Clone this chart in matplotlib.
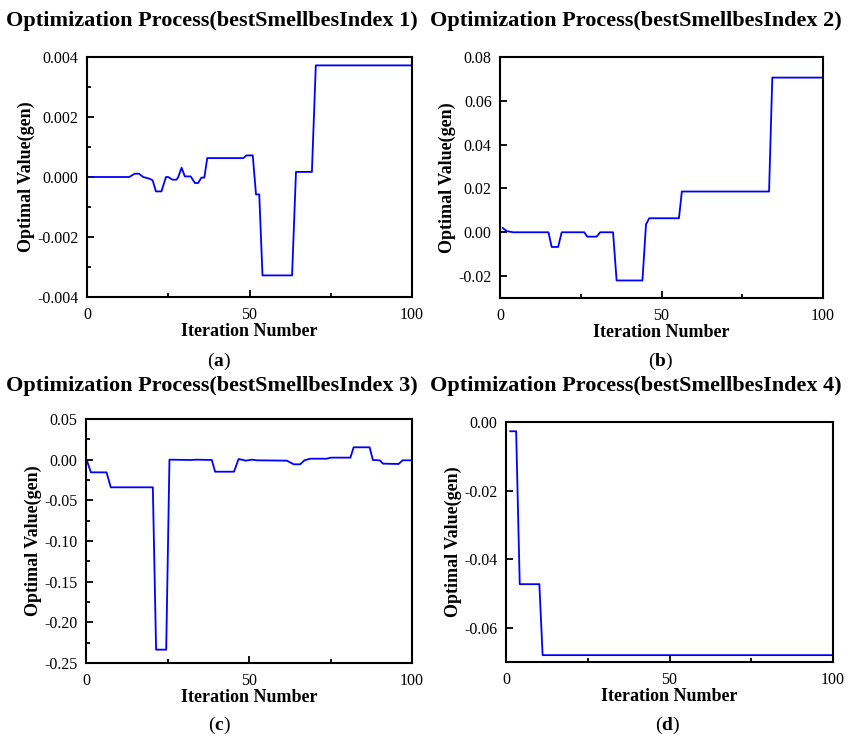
import matplotlib
matplotlib.use('Agg')
import matplotlib.pyplot as plt
from matplotlib.ticker import MultipleLocator, FormatStrFormatter

plt.rcParams['font.family'] = ['Liberation Serif', 'DejaVu Serif']
plt.rcParams['mathtext.fontset'] = 'custom'
plt.rcParams['mathtext.rm'] = 'Liberation Serif'
plt.rcParams['mathtext.bf'] = 'Liberation Serif:bold'
plt.rcParams['axes.unicode_minus'] = False

# breakpoints (iteration, optimal value)
x_a = [1, 13, 14.7, 16, 17.3, 19.3, 20.2, 21.2, 22.9, 24.3, 25, 26.3, 27.5, 28, 29.1, 30.1,
       31.9, 33.2, 34.2, 35.2, 36.1, 37, 48.1, 49.1, 51, 52, 53, 54, 63.1, 64.3, 69.2, 70.4, 100]
y_a = [0.0, 0.0, 0.00011, 0.00011, 0.0, -0.00006, -0.00011, -0.00048, -0.00048, 0.0, 0.0,
       -0.00009, -0.00009, -0.00002, 0.00031, 0.00002, 0.00002, -0.0002, -0.0002, -0.00002,
       -0.00002, 0.00063, 0.00063, 0.00072, 0.00072, -0.00058, -0.00058, -0.00328, -0.00328,
       0.00017, 0.00017, 0.00372, 0.00372]

x_b = [0.8, 2.1, 4.1, 15, 16, 18, 19.1, 26.1, 27, 29.9, 31, 35, 36.1, 44.1, 45.2, 46.2,
       55.4, 56.3, 83.3, 84.3, 100]
y_b = [0.002, 0.0005, 0.0, 0.0, -0.0067, -0.0067, 0.0, 0.0, -0.002, -0.002, 0.0, 0.0,
       -0.022, -0.022, 0.0036, 0.0064, 0.0064, 0.0186, 0.0186, 0.0706, 0.0706]

x_c = [0.2, 1.5, 6.3, 7.6, 20.5, 21.5, 24.6, 25.6, 32, 34, 38.6, 39.6, 45.4, 46.8, 47.8,
       49, 50.9, 52.4, 61.6, 63.7, 65.7, 67, 68.8, 73.9, 75.1, 81.1, 82.1, 87, 88, 90.1,
       91.1, 95.9, 97.1, 100]
y_c = [0.0, -0.0156, -0.0156, -0.034, -0.034, -0.2336, -0.2336, 0.0, -0.0004, 0.0, -0.0004,
       -0.0148, -0.0148, 0.0008, 0.0, -0.0012, 0.0, -0.0008, -0.0012, -0.0057, -0.0057,
       -0.0008, 0.0012, 0.0012, 0.0025, 0.0025, 0.0152, 0.0152, -0.0004, -0.0008, -0.0049,
       -0.0053, -0.0008, -0.0008]

x_d = [1.3, 3.1, 4.2, 10.2, 11.2, 100]
y_d = [-0.0027, -0.0027, -0.0473, -0.0473, -0.068, -0.068]

titles = ['Optimization Process(bestSmellbesIndex %d)' % i for i in range(1, 5)]
captions = ['a', 'b', 'c', 'd']

fig = plt.figure(figsize=(8.48, 7.38), dpi=100)
W, H = 848.0, 738.0


def box(l, t, r, b):
    return [l / W, 1 - b / H, (r - l) / W, (b - t) / H]


panels = [
    (x_a, y_a, box(87, 57, 412, 297), (-0.004, 0.004), 0.002, 0.001, '%.3f'),
    (x_b, y_b, box(500, 57, 823, 298), (-0.03, 0.08), 0.02, None, '%.2f'),
    (x_c, y_c, box(86, 419, 412, 663), (-0.25, 0.05), 0.05, 0.025, '%.2f'),
    (x_d, y_d, box(506, 422, 833, 662), (-0.07, 0.0), 0.02, None, '%.2f'),
]
title_pos = [(212, 21), (636, 21), (212, 386), (636, 386)]
cap_pos = [(219, 361), (661, 361), (219, 725), (668, 725)]

for i, (xs, ys, rect, ylim, major, minor, fmt) in enumerate(panels):
    ax = fig.add_axes(rect)
    ax.plot(xs, ys, color='#0000ff', lw=1.3)
    ax.set_xlim(0, 100)
    ax.set_ylim(*ylim)
    ax.xaxis.set_major_locator(MultipleLocator(50))
    ax.xaxis.set_minor_locator(MultipleLocator(25))
    ax.yaxis.set_major_locator(MultipleLocator(major))
    if minor:
        ax.yaxis.set_minor_locator(MultipleLocator(minor))
    ax.yaxis.set_major_formatter(FormatStrFormatter(fmt))
    ax.tick_params(which='both', direction='in', top=False, right=False,
                   labelsize=11.5, width=1.3)
    ax.tick_params(axis='x', pad=7)
    ax.tick_params(axis='y', pad=6)
    ax.tick_params(which='major', length=5)
    ax.tick_params(which='minor', length=3)
    for s in ax.spines.values():
        s.set_linewidth(1.5)
    ax.set_xlabel('Iteration Number', fontsize=13, fontweight='bold', labelpad=0)
    ax.set_ylabel('Optimal Value(gen)', fontsize=13, fontweight='bold', labelpad=2)
    tx, ty = title_pos[i]
    fig.text(tx / W, 1 - ty / H, titles[i], fontsize=16, fontweight='bold',
             ha='center', va='center')
    cx, cy = cap_pos[i]
    fig.text(cx / W, 1 - cy / H, r'($\mathbf{%s}$)' % captions[i], fontsize=14,
             ha='center', va='center')

fig.savefig('out.png', dpi=100)
